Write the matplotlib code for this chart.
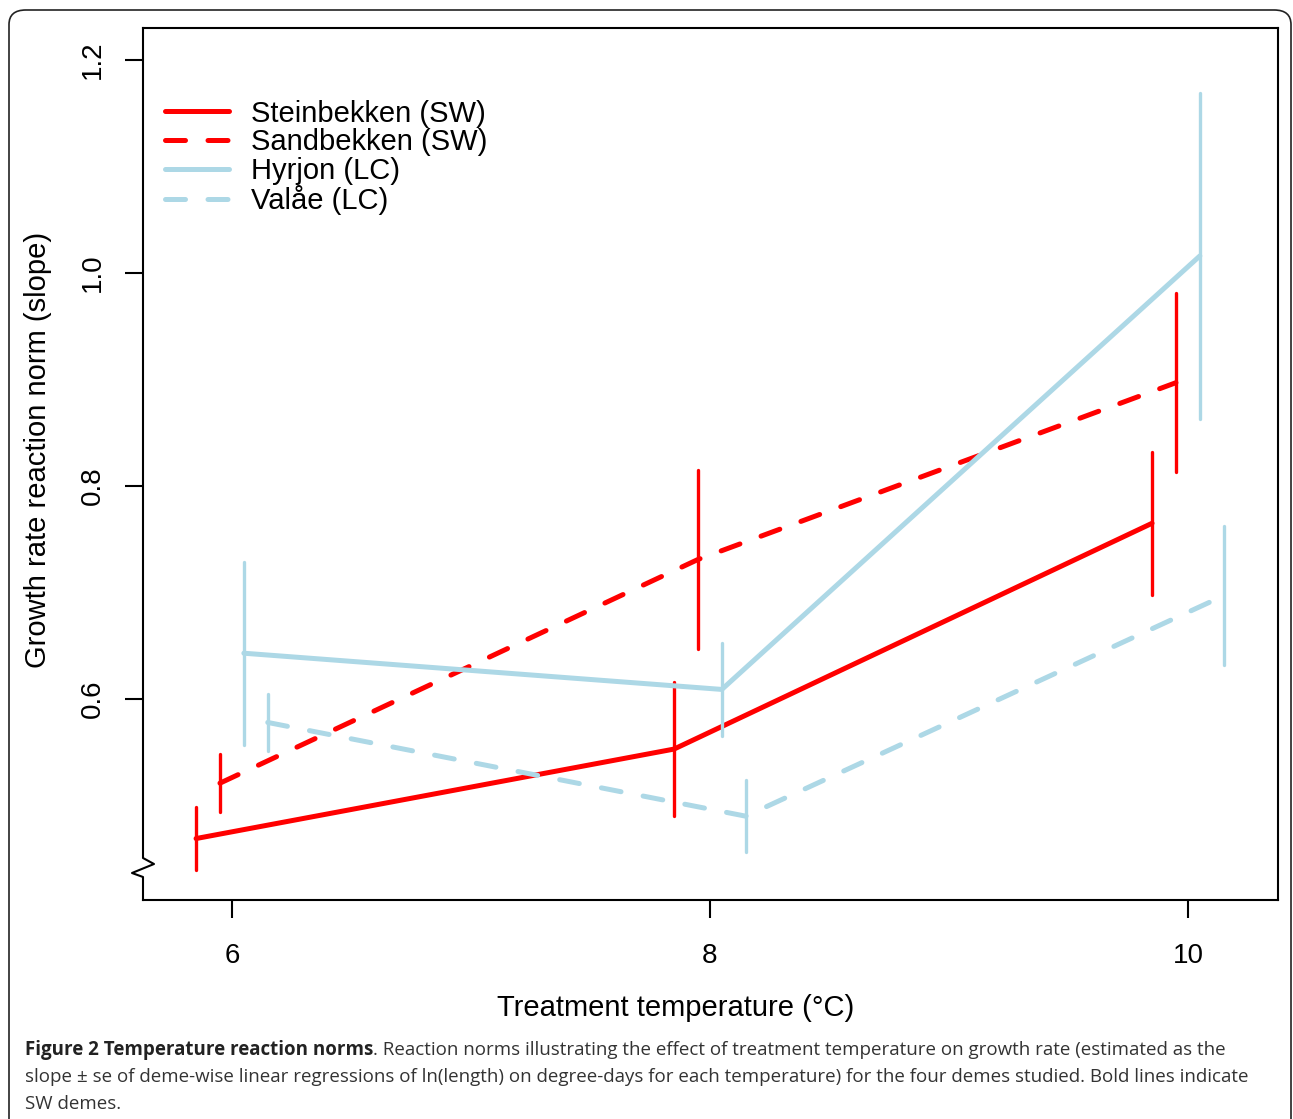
import matplotlib.pyplot as plt
from matplotlib.patches import FancyBboxPatch
from matplotlib.lines import Line2D
import numpy as np

# -----------------------------
# DATA
# -----------------------------
temps = np.array([6, 8, 10])
demes = ["Steinbekken (SW)", "Sandbekken (SW)", "Hyrjon (LC)", "Valåe (LC)"]
offsets = [-0.15, -0.05, 0.05, 0.15]
colors = ["#FF0000", "#FF0000", "#ADD8E6", "#ADD8E6"]
styles = ["solid", "dashed", "solid", "dashed"]

steinbekken = [0.469, 0.553, 0.765]
steinbekken_se = [0.030, 0.063, 0.067]
sandbekken = [0.521, 0.731, 0.897]
sandbekken_se = [0.027, 0.084, 0.084]
hyrjon = [0.643, 0.609, 1.016]
hyrjon_se = [0.086, 0.044, 0.153]
valae = [0.578, 0.490, 0.697]
valae_se = [0.027, 0.034, 0.065]

means = [steinbekken, sandbekken, hyrjon, valae]
ses = [steinbekken_se, sandbekken_se, hyrjon_se, valae_se]

caption_bold = "Figure 2 Temperature reaction norms"
caption_lines = [
    ". Reaction norms illustrating the effect of treatment temperature on growth rate (estimated as the",
    "slope ± se of deme-wise linear regressions of ln(length) on degree-days for each temperature) for the four demes studied. Bold lines indicate",
    "SW demes.",
]

# -----------------------------
# FIGURE
# -----------------------------
W, H = 1293, 1119
fig = plt.figure(figsize=(W / 100, H / 100), dpi=100)
plt.rcParams["font.family"] = ["Liberation Sans", "DejaVu Sans"]

# rounded frame around figure + caption
frame = FancyBboxPatch((9 / W, -0.05), (1291 - 9) / W, (1119 - 10) / H + 0.05,
                       boxstyle="round,pad=0,rounding_size=0.013",
                       transform=fig.transFigure, fill=False,
                       edgecolor="#222222", linewidth=1.2)
fig.patches.append(frame)

ax = fig.add_axes([143 / W, 1 - 900 / H, (1278 - 143) / W, (900 - 28) / H])

for m, s, off, c, ls in zip(means, ses, offsets, colors, styles):
    x = temps + off
    m = np.array(m)
    s = np.array(s)
    if ls == "dashed":
        ax.plot(x, m, color=c, lw=3.6, dashes=(4, 4.5),
                dash_capstyle="round", solid_capstyle="round")
    else:
        ax.plot(x, m, color=c, lw=3.6, solid_capstyle="round")
    ax.vlines(x, m - s, m + s, color=c, lw=2.4, capstyle="round")

ax.set_xlim(5.628, 10.377)
ax.set_ylim(0.4113, 1.230)
ax.set_xticks([6, 8, 10])
ax.set_yticks([0.6, 0.8, 1.0, 1.2])
ax.set_yticklabels(["0.6", "0.8", "1.0", "1.2"], rotation=90, va="center")
ax.tick_params(axis="both", length=13, width=1.5, labelsize=20, pad=14)
ax.tick_params(axis="x", pad=18)

for sp in ["top", "right", "bottom"]:
    ax.spines[sp].set_linewidth(1.5)
ax.spines["left"].set_visible(False)

# left spine with axis break
ah = 872.0
aw = 1135.0
def fy(py):
    return (900 - py) / ah
bx = [0, 0, 11 / aw, -11 / aw, 0, 0]
by = [1, fy(858), fy(864), fy(873), fy(877), 0]
ax.add_line(Line2D(bx, by, transform=ax.transAxes, color="black",
                   lw=1.5, clip_on=False))

ax.set_xlabel("Treatment temperature (°C)", fontsize=21)
ax.xaxis.set_label_coords((676 - 143) / aw, -(1008 - 900) / ah)
ax.xaxis.label.set_va("center")
ax.set_ylabel("Growth rate reaction norm (slope)", fontsize=21)
ax.yaxis.set_label_coords(-(143 - 38) / aw, (900 - 450) / ah)
ax.yaxis.label.set_va("center")

handles = []
for c, ls in zip(colors, styles):
    if ls == "dashed":
        h = Line2D([], [], color=c, lw=3.6, dashes=(4, 4.5), dash_capstyle="round")
    else:
        h = Line2D([], [], color=c, lw=3.6, solid_capstyle="round")
    handles.append(h)
ax.legend(handles, demes, loc="upper left", bbox_to_anchor=(-0.004, 0.948),
          frameon=False, fontsize=21, handlelength=2.2, handletextpad=0.75,
          labelspacing=0.02, borderaxespad=0.5)

# -----------------------------
# CAPTION
# -----------------------------
cap_font = ["Open Sans", "DejaVu Sans"]
fs = 12
probe = fig.text(0, 0, caption_lines[1], fontsize=fs, family=cap_font)
fig.canvas.draw()
wid = probe.get_window_extent().width
probe.remove()
fs = fs * (1246 - 25) / wid

bold = fig.text(25 / W, 1 - 1050 / H, caption_bold,
                fontsize=fs, fontweight="bold", family=cap_font,
                color="#222222", va="center")
fig.canvas.draw()
bb = bold.get_window_extent()
fig.text(bb.x1 / W, 1 - 1050 / H, caption_lines[0],
         fontsize=fs, family=cap_font, color="#333333", va="center")
fig.text(25 / W, 1 - 1077 / H, caption_lines[1],
         fontsize=fs, family=cap_font, color="#333333", va="center")
fig.text(25 / W, 1 - 1104 / H, caption_lines[2],
         fontsize=fs, family=cap_font, color="#333333", va="center")

fig.savefig("out.png", dpi=100)
